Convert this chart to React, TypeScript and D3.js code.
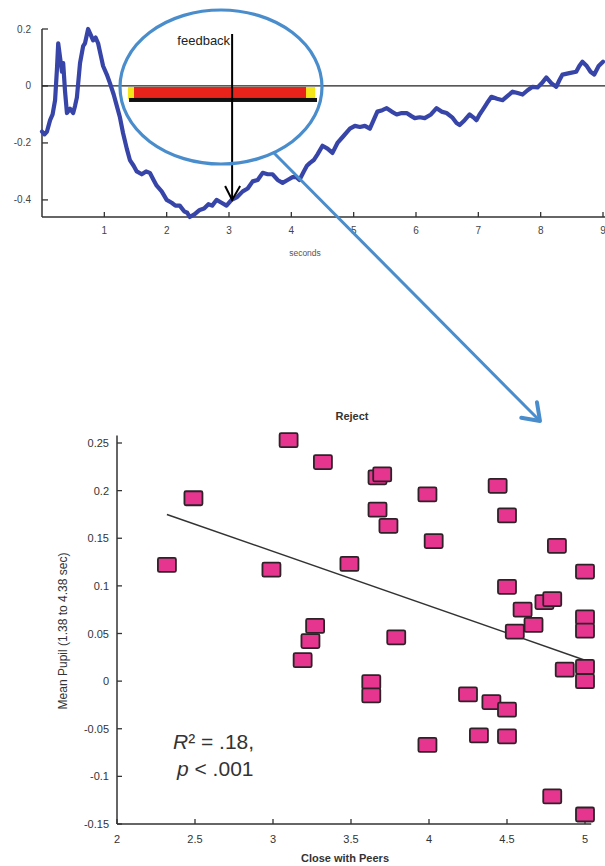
import React, { useEffect, useRef } from 'react';
import * as d3 from 'd3';

// pupil trace (seconds vs change)
const traceSeconds = [0, 0.04, 0.08, 0.13, 0.17, 0.21, 0.24, 0.26, 0.29, 0.32, 0.34, 0.37, 0.4, 0.45, 0.5, 0.53, 0.56, 0.61, 0.66, 0.69, 0.74, 0.78, 0.82, 0.86, 0.9, 0.94, 0.98, 1.04, 1.09, 1.15, 1.2, 1.25, 1.3, 1.36, 1.41, 1.47, 1.52, 1.6, 1.67, 1.73, 1.79, 1.84, 1.92, 2.0, 2.08, 2.14, 2.21, 2.28, 2.33, 2.37, 2.45, 2.53, 2.6, 2.67, 2.73, 2.8, 2.88, 2.96, 3.04, 3.13, 3.22, 3.3, 3.38, 3.46, 3.54, 3.62, 3.7, 3.78, 3.86, 3.94, 4.02, 4.08, 4.13, 4.2, 4.25, 4.3, 4.36, 4.42, 4.5, 4.58, 4.66, 4.74, 4.82, 4.94, 5.02, 5.1, 5.18, 5.26, 5.32, 5.38, 5.46, 5.53, 5.61, 5.69, 5.77, 5.85, 5.92, 5.98, 6.06, 6.14, 6.24, 6.33, 6.41, 6.49, 6.58, 6.65, 6.7, 6.78, 6.86, 6.92, 6.97, 7.02, 7.07, 7.14, 7.21, 7.3, 7.39, 7.47, 7.55, 7.63, 7.71, 7.79, 7.87, 7.95, 8.02, 8.09, 8.17, 8.25, 8.3, 8.35, 8.46, 8.57, 8.62, 8.67, 8.74, 8.8, 8.86, 8.93, 9.0];
const traceValues = [-0.16, -0.17, -0.16, -0.12, -0.1, -0.05, 0.06, 0.15, 0.1, 0.05, 0.08, -0.02, -0.095, -0.08, -0.095, -0.07, -0.04, 0.08, 0.14, 0.15, 0.2, 0.18, 0.16, 0.17, 0.15, 0.11, 0.07, 0.04, 0.01, -0.03, -0.07, -0.11, -0.165, -0.22, -0.26, -0.28, -0.3, -0.31, -0.3, -0.305, -0.33, -0.35, -0.37, -0.4, -0.41, -0.42, -0.42, -0.44, -0.445, -0.46, -0.45, -0.435, -0.43, -0.415, -0.42, -0.4, -0.41, -0.42, -0.4, -0.39, -0.37, -0.36, -0.335, -0.33, -0.305, -0.31, -0.31, -0.33, -0.34, -0.33, -0.32, -0.32, -0.33, -0.3, -0.28, -0.27, -0.26, -0.24, -0.21, -0.22, -0.235, -0.2, -0.18, -0.15, -0.14, -0.144, -0.14, -0.15, -0.12, -0.09, -0.085, -0.078, -0.09, -0.1, -0.095, -0.095, -0.105, -0.113, -0.11, -0.113, -0.1, -0.078, -0.09, -0.095, -0.11, -0.13, -0.137, -0.12, -0.1, -0.11, -0.12, -0.1, -0.084, -0.06, -0.038, -0.045, -0.05, -0.035, -0.02, -0.025, -0.03, -0.015, -0.003, -0.005, 0.01, 0.03, 0.01, -0.003, 0.02, 0.04, 0.045, 0.05, 0.07, 0.085, 0.07, 0.05, 0.04, 0.07, 0.085];
const topXTicks = [1, 2, 3, 4, 5, 6, 7, 8, 9];
const topYTicks = [-0.4, -0.2, 0, 0.2];
const topYLabels = ['-0.4', '-0.2', '0', '0.2'];
const feedbackWindow = [1.38, 4.38];
const feedbackTime = 3.05;

// scatter: closeness with peers vs mean pupil
const closeness = [3.1, 3.32, 2.49, 2.32, 2.99, 3.49, 3.27, 3.24, 3.19, 3.67, 3.7, 3.99, 3.67, 3.74, 4.03, 4.44, 4.5, 4.82, 5.0, 4.5, 4.74, 4.79, 4.6, 4.67, 4.55, 5.0, 5.0, 3.79, 4.87, 5.0, 5.0, 3.63, 3.63, 4.25, 4.4, 4.5, 4.32, 4.5, 3.99, 4.79, 5.0];
const meanPupil = [0.253, 0.23, 0.192, 0.122, 0.117, 0.123, 0.058, 0.042, 0.022, 0.214, 0.217, 0.196, 0.18, 0.163, 0.147, 0.205, 0.174, 0.142, 0.115, 0.099, 0.083, 0.086, 0.075, 0.059, 0.052, 0.067, 0.053, 0.046, 0.012, 0.015, 0.0, -0.001, -0.015, -0.014, -0.022, -0.03, -0.057, -0.058, -0.067, -0.121, -0.14];
const fitX = [2.32, 5.0];
const fitY = [0.175, 0.022];
const scatterXTicks = [2, 2.5, 3, 3.5, 4, 4.5, 5];
const scatterYTicks = [-0.15, -0.1, -0.05, 0, 0.05, 0.1, 0.15, 0.2, 0.25];

const FONT = 'Liberation Sans, Arial, sans-serif';

const App = () => {
    const svgRef = useRef(null);

    useEffect(() => {
        const svg = d3.select(svgRef.current);
        svg.selectAll('*').remove();

        // ---------- top: pupil trace ----------
        const x = d3.scaleLinear().domain([0, 9]).range([42, 603]);
        const y = d3.scaleLinear().domain([-0.46, 0.2]).range([217, 29]);

        const top = svg.append('g');

        // axes (ticks inward, matlab style)
        top.append('line').attr('x1', x(0)).attr('x2', 605).attr('y1', 217).attr('y2', 217)
            .attr('stroke', '#333').attr('stroke-width', 1.5);
        top.append('line').attr('x1', x(0)).attr('x2', x(0)).attr('y1', 29).attr('y2', 217)
            .attr('stroke', '#333').attr('stroke-width', 1.5);

        top.selectAll('.xt').data(topXTicks).enter().append('line')
            .attr('x1', d => x(d)).attr('x2', d => x(d)).attr('y1', 217).attr('y2', 212)
            .attr('stroke', '#333').attr('stroke-width', 1.3);
        top.selectAll('.xl').data(topXTicks).enter().append('text')
            .attr('x', d => x(d)).attr('y', 234).attr('text-anchor', 'middle')
            .attr('font-family', FONT).attr('font-size', 10).attr('fill', '#444')
            .text(d => d);

        top.selectAll('.yt').data(topYTicks).enter().append('line')
            .attr('x1', x(0)).attr('x2', x(0) + 6).attr('y1', d => y(d)).attr('y2', d => y(d))
            .attr('stroke', '#333').attr('stroke-width', 1.3);
        top.selectAll('.yl').data(topYTicks).enter().append('text')
            .attr('x', 31).attr('y', d => y(d) + 3.5).attr('text-anchor', 'end')
            .attr('font-family', FONT).attr('font-size', 10).attr('fill', '#444')
            .text((d, i) => topYLabels[i]);

        top.append('text').attr('x', 305).attr('y', 256).attr('text-anchor', 'middle')
            .attr('font-family', FONT).attr('font-size', 8.5).attr('fill', '#555')
            .text('seconds');

        // zero line
        top.append('line').attr('x1', x(0)).attr('x2', 605).attr('y1', y(0)).attr('y2', y(0))
            .attr('stroke', '#222').attr('stroke-width', 1.2);

        // feedback window bars
        top.append('rect').attr('x', x(feedbackWindow[0])).attr('y', y(0) + 1)
            .attr('width', x(feedbackWindow[1]) - x(feedbackWindow[0])).attr('height', 12)
            .attr('fill', '#f5e619');
        top.append('rect').attr('x', x(feedbackWindow[0]) + 6).attr('y', y(0) + 1)
            .attr('width', x(feedbackWindow[1]) - x(feedbackWindow[0]) - 15).attr('height', 12)
            .attr('fill', '#e8231c');
        top.append('rect').attr('x', x(feedbackWindow[0]) + 1).attr('y', y(0) + 12)
            .attr('width', x(feedbackWindow[1]) - x(feedbackWindow[0]) + 1).attr('height', 4)
            .attr('fill', '#111');

        // trace
        const line = d3.line()
            .x((d, i) => x(traceSeconds[i]))
            .y(d => y(d))
            .curve(d3.curveLinear);
        top.append('path').attr('d', line(traceValues))
            .attr('fill', 'none').attr('stroke', '#3744a8').attr('stroke-width', 4.2)
            .attr('stroke-linejoin', 'round').attr('stroke-linecap', 'round');

        // feedback arrow
        const ax = x(feedbackTime);
        top.append('line').attr('x1', ax).attr('x2', ax).attr('y1', 34).attr('y2', 200)
            .attr('stroke', '#000').attr('stroke-width', 2);
        top.append('path').attr('d', `M${ax - 7},${186} L${ax},${200} L${ax + 8},${186}`)
            .attr('fill', 'none').attr('stroke', '#000').attr('stroke-width', 2);
        top.append('text').attr('x', ax - 2).attr('y', 45).attr('text-anchor', 'end')
            .attr('font-family', FONT).attr('font-size', 13).attr('fill', '#222')
            .text('feedback');

        // magnifier ellipse + connector
        top.append('ellipse').attr('cx', 221).attr('cy', 87).attr('rx', 101).attr('ry', 77)
            .attr('fill', 'none').attr('stroke', '#4a8dcc').attr('stroke-width', 3.2);
        const p0 = [273, 152];
        const p1 = [540, 421];
        top.append('line').attr('x1', p0[0]).attr('y1', p0[1]).attr('x2', p1[0]).attr('y2', p1[1])
            .attr('stroke', '#4a8dcc').attr('stroke-width', 3);
        const ang = Math.atan2(p1[1] - p0[1], p1[0] - p0[0]);
        const head = 19;
        const spread = 0.62;
        top.append('path')
            .attr('d', `M${p1[0] - head * Math.cos(ang - spread)},${p1[1] - head * Math.sin(ang - spread)} L${p1[0]},${p1[1]} L${p1[0] - head * Math.cos(ang + spread)},${p1[1] - head * Math.sin(ang + spread)}`)
            .attr('fill', 'none').attr('stroke', '#4a8dcc').attr('stroke-width', 4)
            .attr('stroke-linecap', 'round').attr('stroke-linejoin', 'round');

        // ---------- bottom: scatter ----------
        const sx = d3.scaleLinear().domain([2, 5]).range([117, 585]);
        const sy = d3.scaleLinear().domain([-0.15, 0.25]).range([824, 443]);
        const bot = svg.append('g');

        bot.append('line').attr('x1', sx(2)).attr('x2', sx(5.04)).attr('y1', sy(-0.15)).attr('y2', sy(-0.15))
            .attr('stroke', '#333').attr('stroke-width', 1.5);
        bot.append('line').attr('x1', sx(2)).attr('x2', sx(2)).attr('y1', sy(-0.15)).attr('y2', sy(0.258))
            .attr('stroke', '#333').attr('stroke-width', 1.5);

        bot.selectAll('.sxt').data(scatterXTicks).enter().append('line')
            .attr('x1', d => sx(d)).attr('x2', d => sx(d)).attr('y1', sy(-0.15)).attr('y2', sy(-0.15) - 5)
            .attr('stroke', '#333').attr('stroke-width', 1.3);
        bot.selectAll('.sxl').data(scatterXTicks).enter().append('text')
            .attr('x', d => sx(d)).attr('y', 843).attr('text-anchor', 'middle')
            .attr('font-family', FONT).attr('font-size', 11).attr('fill', '#333')
            .text(d => d);

        bot.selectAll('.syt').data(scatterYTicks).enter().append('line')
            .attr('x1', sx(2)).attr('x2', sx(2) + 5).attr('y1', d => sy(d)).attr('y2', d => sy(d))
            .attr('stroke', '#333').attr('stroke-width', 1.3);
        bot.selectAll('.syl').data(scatterYTicks).enter().append('text')
            .attr('x', 109).attr('y', d => sy(d) + 4).attr('text-anchor', 'end')
            .attr('font-family', FONT).attr('font-size', 11).attr('fill', '#333')
            .text(d => d);

        bot.append('text').attr('x', 352).attr('y', 420).attr('text-anchor', 'middle')
            .attr('font-family', FONT).attr('font-size', 11).attr('font-weight', 'bold').attr('fill', '#333')
            .text('Reject');
        bot.append('text').attr('x', 345).attr('y', 862).attr('text-anchor', 'middle')
            .attr('font-family', FONT).attr('font-size', 11).attr('font-weight', 'bold').attr('fill', '#333')
            .text('Close with Peers');
        bot.append('text').attr('transform', 'translate(67, 631) rotate(-90)').attr('text-anchor', 'middle')
            .attr('font-family', FONT).attr('font-size', 12).attr('fill', '#333')
            .text('Mean Pupil (1.38 to 4.38 sec)');

        // regression line
        bot.append('line').attr('x1', sx(fitX[0])).attr('y1', sy(fitY[0])).attr('x2', sx(fitX[1])).attr('y2', sy(fitY[1]))
            .attr('stroke', '#333').attr('stroke-width', 1.5);

        // points
        bot.selectAll('rect.pt').data(closeness).enter().append('rect')
            .attr('class', 'pt')
            .attr('x', d => sx(d) - 9).attr('y', (d, i) => sy(meanPupil[i]) - 7)
            .attr('width', 18).attr('height', 14).attr('rx', 1.5)
            .attr('fill', '#e5358f').attr('stroke', '#2e2228').attr('stroke-width', 1.8);

        // stats
        const st = bot.append('text').attr('x', 173).attr('y', 749)
            .attr('font-family', FONT).attr('font-size', 21).attr('fill', '#333');
        st.append('tspan').attr('font-style', 'italic').text('R');
        st.append('tspan').text('² = .18,');
        const st2 = bot.append('text').attr('x', 177).attr('y', 776)
            .attr('font-family', FONT).attr('font-size', 21).attr('fill', '#333');
        st2.append('tspan').attr('font-style', 'italic').text('p');
        st2.append('tspan').text(' < .001');
    }, []);

    return (
        <svg ref={svgRef} width={605} height={866}
            style={{ position: 'absolute', left: 0, top: 0, background: '#fff' }} />
    );
};

export default App;
